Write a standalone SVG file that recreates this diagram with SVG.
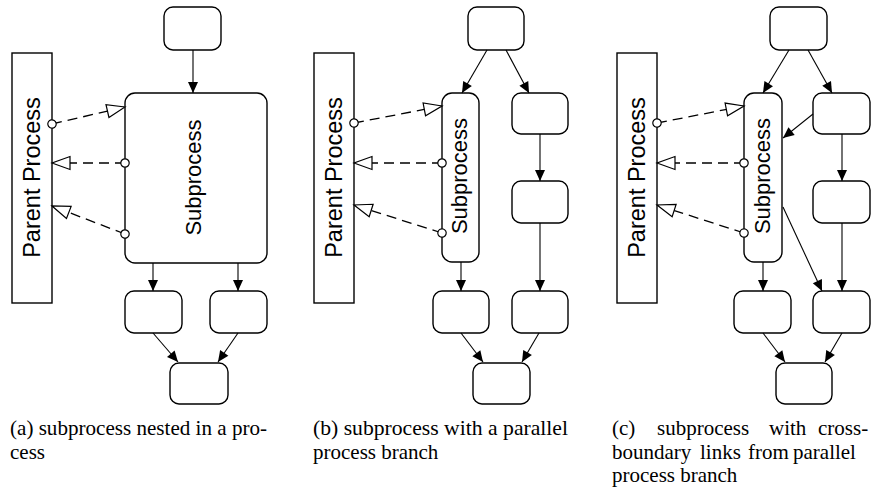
<svg xmlns="http://www.w3.org/2000/svg" width="878" height="488" viewBox="0 0 878 488">
<defs>
<style>
.box{fill:#fff;stroke:#000;stroke-width:1.4}
.par{fill:#fff;stroke:#000;stroke-width:1.4}
.ln{fill:none;stroke:#000;stroke-width:1.1;marker-end:url(#ah)}
.dl{fill:none;stroke:#000;stroke-width:1.3;stroke-dasharray:10,6;marker-start:url(#oc);marker-end:url(#ot)}
.lbl{font-family:"Liberation Sans",Arial,sans-serif;fill:#000;text-anchor:middle}
.cap{font-family:"Liberation Serif","Times New Roman",serif;font-size:21px;fill:#000}
</style>
<marker id="ah" markerUnits="userSpaceOnUse" markerWidth="14" markerHeight="12" viewBox="-12 -6 14 12" refX="0" refY="0" orient="auto"><path d="M0,0 L-11,-5 L-11,5 Z" fill="#000"/></marker>
<marker id="ot" markerUnits="userSpaceOnUse" markerWidth="22" markerHeight="18" viewBox="-20 -9 22 18" refX="0" refY="0" orient="auto"><path d="M0,0 L-18,-6.5 L-18,6.5 Z" fill="#fff" stroke="#000" stroke-width="1.2"/></marker>
<marker id="oc" markerUnits="userSpaceOnUse" markerWidth="12" markerHeight="12" viewBox="-6 -6 12 12" refX="0" refY="0" orient="auto"><circle cx="0" cy="0" r="4.2" fill="#fff" stroke="#000" stroke-width="1.2"/></marker>
</defs>

<!-- Panel (a) -->
<g id="a-parent"><rect class="par" x="12" y="53" width="40" height="250"/><text class="lbl" font-size="23.5" transform="translate(40,177.5) rotate(-90)">Parent Process</text></g>
<g id="a-top"><rect class="box" x="164" y="7" width="57" height="43" rx="9"/></g>
<g id="a-sub"><rect class="box" x="125" y="93" width="142" height="170" rx="10"/><text class="lbl" font-size="22" transform="translate(201,177.5) rotate(-90)">Subprocess</text></g>
<g id="a-bl"><rect class="box" x="125" y="291" width="57" height="42" rx="9"/></g>
<g id="a-br"><rect class="box" x="210" y="291" width="57" height="42" rx="9"/></g>
<g id="a-b"><rect class="box" x="170" y="363" width="58" height="41" rx="9"/></g>

<!-- Panel (b) -->
<g id="b-parent"><rect class="par" x="314" y="53" width="40" height="250"/><text class="lbl" font-size="23.5" transform="translate(342,177.5) rotate(-90)">Parent Process</text></g>
<g id="b-top"><rect class="box" x="468" y="7" width="56" height="43" rx="9"/></g>
<g id="b-sub"><rect class="box" x="442" y="93" width="37" height="169" rx="10"/><text class="lbl" font-size="22" transform="translate(467,176) rotate(-90)">Subprocess</text></g>
<g id="b-r1"><rect class="box" x="512" y="93" width="56" height="41" rx="9"/></g>
<g id="b-r2"><rect class="box" x="512" y="181" width="56" height="42" rx="9"/></g>
<g id="b-r3"><rect class="box" x="512" y="291" width="56" height="42" rx="9"/></g>
<g id="b-bl"><rect class="box" x="433" y="291" width="56" height="42" rx="9"/></g>
<g id="b-b"><rect class="box" x="473" y="363" width="57" height="41" rx="9"/></g>

<!-- Panel (c) -->
<g id="c-parent"><rect class="par" x="617" y="53" width="40" height="250"/><text class="lbl" font-size="23.5" transform="translate(645,177.5) rotate(-90)">Parent Process</text></g>
<g id="c-top"><rect class="box" x="770" y="7" width="57" height="43" rx="9"/></g>
<g id="c-sub"><rect class="box" x="744" y="93" width="38" height="169" rx="10"/><text class="lbl" font-size="22" transform="translate(770,176) rotate(-90)">Subprocess</text></g>
<g id="c-r1"><rect class="box" x="813" y="93" width="57" height="41" rx="9"/></g>
<g id="c-r2"><rect class="box" x="813" y="181" width="57" height="42" rx="9"/></g>
<g id="c-r3"><rect class="box" x="813" y="291" width="57" height="42" rx="9"/></g>
<g id="c-bl"><rect class="box" x="734" y="291" width="57" height="42" rx="9"/></g>
<g id="c-b"><rect class="box" x="776" y="363" width="56" height="41" rx="9"/></g>

<g id="connectors">
<!-- a -->
<line class="ln" x1="193" y1="50" x2="193" y2="93"/>
<line class="ln" x1="153" y1="263" x2="153" y2="291"/>
<line class="ln" x1="238" y1="263" x2="238" y2="291"/>
<line class="ln" x1="153" y1="333" x2="178" y2="362"/>
<line class="ln" x1="238" y1="333" x2="218" y2="362"/>
<line class="dl" x1="52" y1="124" x2="125" y2="107"/>
<line class="dl" x1="125" y1="163" x2="52" y2="163"/>
<line class="dl" x1="125" y1="234" x2="52" y2="206"/>
<!-- b -->
<line class="ln" x1="487" y1="50" x2="462" y2="93"/>
<line class="ln" x1="506" y1="50" x2="529" y2="93"/>
<line class="ln" x1="461" y1="262" x2="461" y2="291"/>
<line class="ln" x1="540" y1="134" x2="540" y2="181"/>
<line class="ln" x1="540" y1="223" x2="540" y2="291"/>
<line class="ln" x1="461" y1="333" x2="483" y2="362"/>
<line class="ln" x1="539" y1="333" x2="522" y2="362"/>
<line class="dl" x1="354" y1="123" x2="442" y2="106"/>
<line class="dl" x1="442" y1="163" x2="354" y2="163"/>
<line class="dl" x1="442" y1="233" x2="354" y2="205"/>
<!-- c -->
<line class="ln" x1="789" y1="50" x2="763" y2="93"/>
<line class="ln" x1="808" y1="50" x2="832" y2="93"/>
<line class="ln" x1="813" y1="114" x2="783" y2="138"/>
<line class="ln" x1="783" y1="207" x2="822" y2="291"/>
<line class="ln" x1="842" y1="134" x2="842" y2="181"/>
<line class="ln" x1="842" y1="223" x2="842" y2="291"/>
<line class="ln" x1="763" y1="262" x2="763" y2="291"/>
<line class="ln" x1="763" y1="333" x2="785" y2="362"/>
<line class="ln" x1="842" y1="333" x2="825" y2="362"/>
<line class="dl" x1="657" y1="123" x2="744" y2="106"/>
<line class="dl" x1="744" y1="163" x2="657" y2="163"/>
<line class="dl" x1="744" y1="233" x2="657" y2="205"/>
</g>

<g id="captions">
<text class="cap" x="10" y="435" textLength="257" lengthAdjust="spacingAndGlyphs">(a) subprocess nested in a pro-</text>
<text class="cap" x="10" y="459">cess</text>
<text class="cap" x="313" y="435" textLength="255" lengthAdjust="spacingAndGlyphs">(b) subprocess with a parallel</text>
<text class="cap" x="313" y="459">process branch</text>
<text class="cap" y="435"><tspan x="612">(c)</tspan><tspan x="657">subprocess</tspan><tspan x="769">with</tspan><tspan x="818">cross-</tspan></text>
<text class="cap" y="459"><tspan x="612">boundary</tspan><tspan x="700">links</tspan><tspan x="748">from</tspan><tspan x="793">parallel</tspan></text>
<text class="cap" x="612" y="482">process branch</text>
</g>
</svg>
